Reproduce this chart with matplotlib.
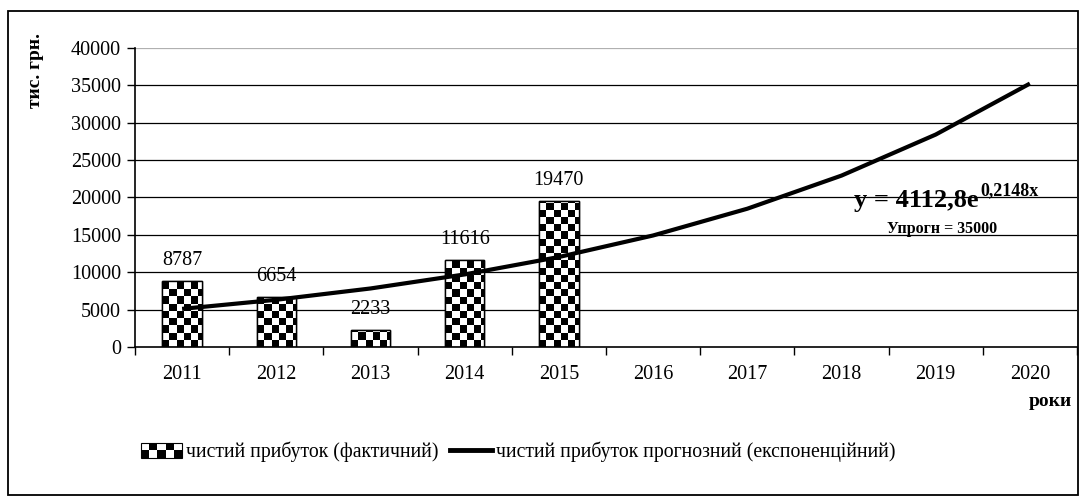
import numpy as np
import matplotlib.pyplot as plt
from matplotlib.patches import Rectangle
from matplotlib.lines import Line2D
from matplotlib.legend_handler import HandlerBase

plt.rcParams['font.family'] = ['Liberation Serif', 'DejaVu Serif']

# дані
roki = ['2011', '2012', '2013', '2014', '2015', '2016', '2017', '2018', '2019', '2020']
fakt = [8787, 6654, 2233, 11616, 19470]
# прогнозна (експоненційна) лінія
prognoz = [5100, 6320, 7830, 9710, 12040, 14920, 18500, 22930, 28420, 35240]
y_ticks = [0, 5000, 10000, 15000, 20000, 25000, 30000, 35000, 40000]

FS = 14.5


class HandlerChecker(HandlerBase):
    # маркер легенди у вигляді шахової клітинки
    def create_artists(self, legend, orig_handle, xdescent, ydescent,
                       width, height, fontsize, trans):
        arts = []
        nc, nr = 5, 2
        cw, ch = width / nc, height / nr
        for i in range(nc):
            for j in range(nr):
                c = 'black' if (i + j) % 2 == 0 else 'white'
                arts.append(Rectangle((-xdescent + i * cw, -ydescent + j * ch), cw, ch,
                                      facecolor=c, edgecolor='none', transform=trans))
        arts.append(Rectangle((-xdescent, -ydescent), width, height, facecolor='none',
                              edgecolor='black', lw=0.8, transform=trans))
        return arts


fig = plt.figure(figsize=(10.81, 4.97), dpi=100)
ax = fig.add_axes([135 / 1081, 1 - 347 / 497, 942 / 1081, 299 / 497])

x = np.arange(len(roki))
xf = np.arange(len(fakt))

for yv in y_ticks[1:-1]:
    ax.axhline(yv, color='black', lw=0.9, zorder=1)
ax.axhline(40000, color='#b0b0b0', lw=0.9, zorder=1)

bars = ax.bar(xf, fakt, width=0.42, facecolor='white', edgecolor='black', lw=1, zorder=2)

ax.set_xlim(-0.5, len(roki) - 0.5)
ax.set_ylim(0, 40000)

# шахове заповнення стовпців
cx = 7.2 / 94.2
cy = 7.2 / 299 * 40000
for b in bars:
    x0, w, h = b.get_x(), b.get_width(), b.get_height()
    nc = int(np.ceil(w / cx))
    nr = int(np.ceil(h / cy))
    ii, jj = np.meshgrid(np.arange(nc), np.arange(nr))
    chk = ((ii + jj) % 2).astype(float)
    im = ax.imshow(chk, extent=(x0, x0 + nc * cx, 0, nr * cy), origin='lower',
                   cmap='gray', interpolation='nearest', aspect='auto', zorder=2.5)
    im.set_clip_path(b)
    ax.add_patch(Rectangle((x0, 0), w, h, facecolor='none', edgecolor='black', lw=1, zorder=3))

for xi, v in zip(xf, fakt):
    ax.annotate(str(v), (xi, v), xytext=(0, 8), textcoords='offset points',
                ha='center', va='bottom', fontsize=FS, zorder=5)

ax.plot(x, prognoz, color='black', lw=3, zorder=4, solid_capstyle='butt')

ax.set_xticks(x)
ax.set_xticklabels(roki, fontsize=FS)
ax.set_xticks(np.arange(-0.5, len(roki)), minor=True)
ax.tick_params(axis='x', which='major', length=0, pad=13)
ax.tick_params(axis='x', which='minor', length=6, width=1, direction='out')
ax.set_yticks(y_ticks)
ax.set_yticklabels([str(v) for v in y_ticks], fontsize=FS)
ax.tick_params(axis='y', length=6, width=1, direction='out', pad=4)

for s in ['top', 'right']:
    ax.spines[s].set_visible(False)
for s in ['left', 'bottom']:
    ax.spines[s].set_linewidth(1.2)

# рівняння тренду
fig.text(854 / 1081, 1 - 207 / 497, 'y = 4112,8e', fontsize=19, fontweight='bold', va='baseline')
fig.text(980 / 1081, 1 - 195 / 497, '0,2148x', fontsize=13, fontweight='bold', va='baseline')
fig.text(887 / 1081, 1 - 233 / 497, 'Упрогн = 35000', fontsize=11.5, fontweight='bold', va='baseline')

fig.text(35 / 1081, 1 - 70 / 497, 'тис. грн.', fontsize=14, fontweight='bold',
         rotation=90, ha='center', va='center')
fig.text(1050 / 1081, 1 - 402 / 497, 'роки', fontsize=14, fontweight='bold',
         ha='center', va='center')

h1 = Rectangle((0, 0), 1, 1)
h2 = Line2D([], [], color='black', lw=3.5)
fig.legend([h1, h2], ['чистий прибуток (фактичний)', 'чистий прибуток прогнозний (експоненційний)'],
           handler_map={Rectangle: HandlerChecker()}, loc='center left',
           bbox_to_anchor=(123 / 1081, 1 - 452 / 497), ncol=2, frameon=False,
           fontsize=14.2, handlelength=2.1, handletextpad=0.2, columnspacing=0.6,
           handleheight=0.75)

fig.patches.append(Rectangle((8 / 1081, 2 / 497), 1070 / 1081, 484 / 497, transform=fig.transFigure,
                             facecolor='none', edgecolor='black', lw=1.3))

fig.savefig('out.png', dpi=100)
